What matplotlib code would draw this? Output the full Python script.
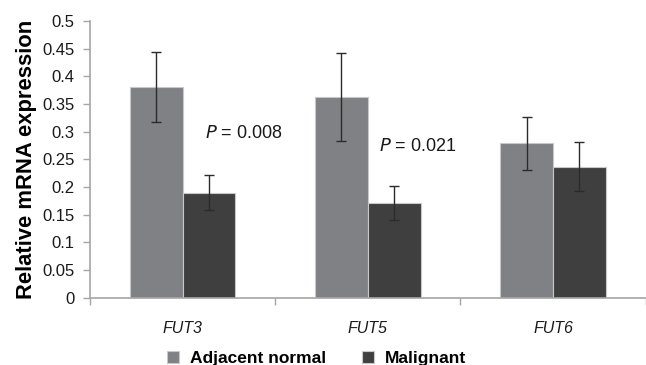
import numpy as np
import matplotlib.pyplot as plt

plt.rcParams['font.family'] = ['Liberation Sans', 'DejaVu Sans']

genes = ['FUT3', 'FUT5', 'FUT6']
normal = [0.381, 0.363, 0.279]
normal_err = [0.063, 0.079, 0.048]
malignant = [0.190, 0.171, 0.237]
malignant_err = [0.031, 0.030, 0.044]
p_labels = ['0.008', '0.021']
p_pos = [(0.12, 0.297), (0.06, 0.274)]

c_normal = '#808184'
c_malig = '#3f3f3f'
c_axis = '#a6a6a6'

fig = plt.figure(figsize=(6.46, 3.65), dpi=100)
ax = fig.add_axes([0.1393, 0.1844, 0.8600, 0.7580])

x = np.arange(len(genes))
w = 0.285
b1 = ax.bar(x - w / 2, normal, w, color=c_normal, edgecolor='#c8c8c8', linewidth=0.8,
            label='Adjacent normal')
b2 = ax.bar(x + w / 2, malignant, w, color=c_malig, edgecolor='#c8c8c8', linewidth=0.8,
            label='Malignant')
ax.errorbar(x - w / 2, normal, yerr=normal_err, fmt='none', ecolor='#2b2b2b',
            elinewidth=1.0, capsize=3.5, capthick=1.0)
ax.errorbar(x + w / 2, malignant, yerr=malignant_err, fmt='none', ecolor='#2b2b2b',
            elinewidth=1.0, capsize=3.5, capthick=1.0)

for i, (lab, (dx, y)) in enumerate(zip(p_labels, p_pos)):
    ax.text(i + dx, y, r'$\it{P}$ = ' + lab, fontsize=13, va='center', ha='left',
            color='#1a1a1a')

ax.set_xlim(-0.5, len(genes) - 0.5)
ax.set_ylim(0, 0.5)
ax.set_yticks(np.arange(0, 0.501, 0.05))
ax.set_yticklabels(['0', '0.05', '0.1', '0.15', '0.2', '0.25', '0.3', '0.35', '0.4', '0.45', '0.5'])
ax.set_xticks(x)
ax.set_xticklabels(genes, fontstyle='italic', fontsize=11.5, color='#1a1a1a')
ax.set_xticks(np.arange(-0.5, len(genes), 1.0), minor=True)
ax.tick_params(axis='x', which='major', length=0, pad=17)
ax.tick_params(axis='x', which='minor', length=5, color=c_axis, width=1)
ax.tick_params(axis='y', length=5, color=c_axis, width=1, labelsize=12, labelcolor='#1a1a1a',
               pad=6)

for s in ['top', 'right']:
    ax.spines[s].set_visible(False)
for s in ['left', 'bottom']:
    ax.spines[s].set_color(c_axis)
    ax.spines[s].set_linewidth(1.2)

ax.set_ylabel('Relative mRNA expression', fontsize=15.8, fontweight='bold', labelpad=4)

fig.legend(handles=[b1, b2], loc='lower center', bbox_to_anchor=(0.49, -0.045), ncol=2,
           frameon=False, prop={'weight': 'bold', 'size': 12.5}, handlelength=0.7,
           handleheight=0.7, columnspacing=2.1, handletextpad=0.6)

fig.savefig('out.png', dpi=100)
